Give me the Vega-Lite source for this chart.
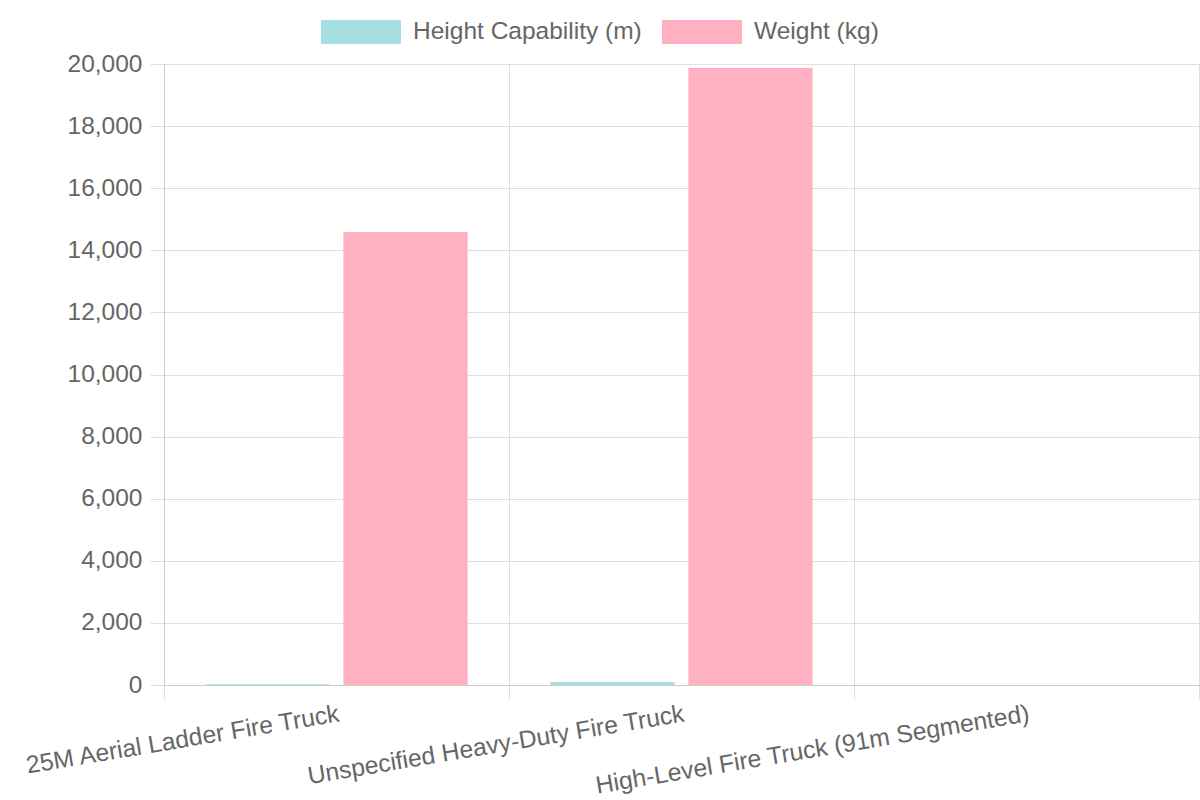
{
  "$schema": "https://vega.github.io/schema/vega-lite/v6.json",
  "width": 1035,
  "height": 621,
  "autosize": {"type": "none"},
  "padding": {"left": 164, "top": 64, "right": 1, "bottom": 115},
  "background": "white",
  "data": {
    "values": [
      {"truck": "25M Aerial Ladder Fire Truck", "series": "Height Capability (m)", "value": 25},
      {"truck": "25M Aerial Ladder Fire Truck", "series": "Weight (kg)", "value": 14590},
      {"truck": "Unspecified Heavy-Duty Fire Truck", "series": "Height Capability (m)", "value": 100},
      {"truck": "Unspecified Heavy-Duty Fire Truck", "series": "Weight (kg)", "value": 19870},
      {"truck": "High-Level Fire Truck (91m Segmented)", "series": "Height Capability (m)", "value": null},
      {"truck": "High-Level Fire Truck (91m Segmented)", "series": "Weight (kg)", "value": null}
    ]
  },
  "mark": {"type": "bar"},
  "encoding": {
    "x": {
      "field": "truck",
      "type": "nominal",
      "sort": null,
      "title": null,
      "scale": {
        "domain": ["25M Aerial Ladder Fire Truck", "Unspecified Heavy-Duty Fire Truck", "High-Level Fire Truck (91m Segmented)"],
        "paddingInner": 0,
        "paddingOuter": 0
      },
      "axis": {
        "tickBand": "extent",
        "labelAngle": -9.5,
        "labelFontSize": 24.7,
        "labelColor": "#666666",
        "labelLimit": 0,
        "labelPadding": 2,
        "tickSize": 14,
        "tickColor": "#dddddd",
        "domainColor": "#cccccc",
        "gridColor": "#dddddd",
        "grid": true
      }
    },
    "xOffset": {
      "field": "series",
      "type": "nominal",
      "scale": {"paddingInner": 0.1, "paddingOuter": 0.3}
    },
    "y": {
      "field": "value",
      "type": "quantitative",
      "title": null,
      "scale": {"domain": [0, 20000]},
      "axis": {
        "values": [0, 2000, 4000, 6000, 8000, 10000, 12000, 14000, 16000, 18000, 20000],
        "format": ",.0f",
        "labelFontSize": 24.5,
        "labelColor": "#666666",
        "labelPadding": 8,
        "tickSize": 14,
        "tickColor": "#dddddd",
        "domainColor": "#cccccc",
        "gridColor": "#dddddd"
      }
    },
    "color": {
      "field": "series",
      "type": "nominal",
      "title": null,
      "scale": {
        "domain": ["Height Capability (m)", "Weight (kg)"],
        "range": ["#a5dfdf", "#ffb1c1"]
      },
      "legend": {
        "orient": "none",
        "direction": "horizontal",
        "legendX": 173,
        "legendY": -56,
        "symbolType": "M-1.667,-0.5H1.667V0.5H-1.667Z",
        "symbolSize": 2304,
        "symbolStrokeWidth": 0,
        "symbolOpacity": 1,
        "labelFontSize": 24.5,
        "labelColor": "#666666",
        "labelLimit": 0,
        "labelOffset": 28,
        "columnPadding": 19
      }
    }
  },
  "config": {
    "font": "Liberation Sans",
    "view": {"stroke": "#dddddd"},
    "axis": {"gridOpacity": 1}
  }
}
